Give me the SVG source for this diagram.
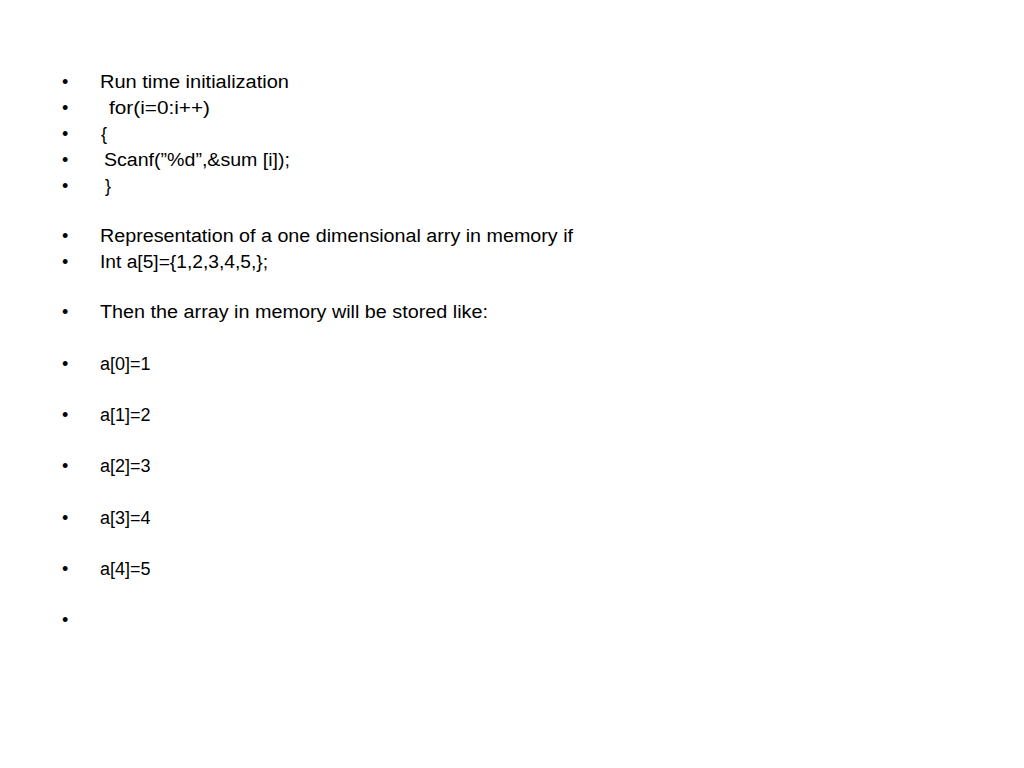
<svg xmlns="http://www.w3.org/2000/svg" width="1024" height="768" viewBox="0 0 1024 768">
<style>text{font-family:"Liberation Sans",Arial,sans-serif;font-size:18px;fill:#000}</style>
<rect width="1024" height="768" fill="#fff"/>
<g id="bullets">
<text x="62" y="88">•</text><text x="62" y="114">•</text><text x="62" y="140">•</text><text x="62" y="166">•</text><text x="62" y="192">•</text>
<text x="62" y="242">•</text><text x="62" y="268">•</text><text x="62" y="318">•</text><text x="62" y="370">•</text>
<text x="62" y="421">•</text><text x="62" y="472">•</text><text x="62" y="524">•</text><text x="62" y="575">•</text><text x="62" y="626">•</text>
</g>
<g id="content">
<text x="100" y="88" textLength="189" lengthAdjust="spacingAndGlyphs">Run time initialization</text>
<text x="109" y="114" textLength="101" lengthAdjust="spacingAndGlyphs">for(i=0:i++)</text>
<text x="101" y="140">{</text>
<text x="104" y="166" textLength="186" lengthAdjust="spacingAndGlyphs">Scanf(”%d”,&amp;sum [i]);</text>
<text x="105" y="192">}</text>
<text x="100" y="242" textLength="473" lengthAdjust="spacingAndGlyphs">Representation of a one dimensional arry in memory if</text>
<text x="100" y="268" textLength="168" lengthAdjust="spacingAndGlyphs">Int a[5]={1,2,3,4,5,};</text>
<text x="100" y="318" textLength="388" lengthAdjust="spacingAndGlyphs">Then the array in memory will be stored like:</text>
<text x="100" y="370">a[0]=1</text>
<text x="100" y="421">a[1]=2</text>
<text x="100" y="472">a[2]=3</text>
<text x="100" y="524">a[3]=4</text>
<text x="100" y="575">a[4]=5</text>
</g>
</svg>
